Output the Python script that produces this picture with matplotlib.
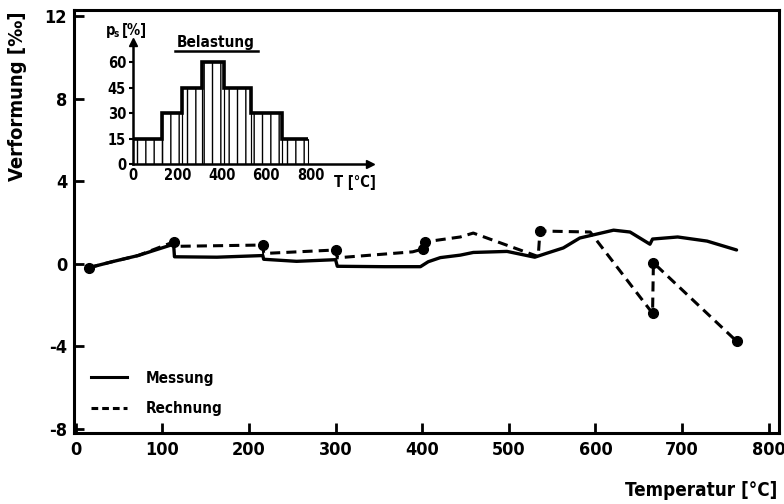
import matplotlib
matplotlib.use("Agg")
import matplotlib.pyplot as plt
import numpy as np
from matplotlib.lines import Line2D

# Messung (solid line), temperature [°C] vs. strain [per mille]
mess_T = [15, 42, 72, 113, 114, 163, 216, 217, 255, 300, 302, 356, 398, 407,
          421, 444, 459, 498, 530, 543, 563, 582, 621, 640, 663, 666, 695, 729, 763]
mess_eps = [-0.19, 0.1, 0.4, 0.95, 0.34, 0.32, 0.4, 0.22, 0.12, 0.2, -0.12, -0.14, -0.14, 0.1,
            0.3, 0.42, 0.55, 0.6, 0.32, 0.5, 0.77, 1.25, 1.63, 1.54, 0.95, 1.2, 1.3, 1.1, 0.67]

# Rechnung (dashed line)
rech_T = [15, 42, 72, 113, 121, 216, 217, 300, 302, 389, 401, 403, 444, 459,
          534, 536, 594, 666, 667, 763]
rech_eps = [-0.19, 0.1, 0.4, 1.06, 0.85, 0.91, 0.5, 0.67, 0.29, 0.58, 0.72, 1.06, 1.3, 1.49,
            0.35, 1.59, 1.54, -2.4, 0.05, -3.75]
rech_dots = [0, 3, 5, 7, 10, 11, 15, 17, 18, 19]

# inset: Belastung p_s [%]
load_edges = [0, 130, 220, 310, 410, 530, 670, 790]
load_vals = [15, 30, 45, 60, 45, 30, 15]

plt.rcParams["font.family"] = ["DejaVu Sans"]
plt.rcParams["font.stretch"] = "condensed"
plt.rcParams["font.weight"] = "bold"
plt.rcParams["axes.unicode_minus"] = False
plt.rcParams["hatch.linewidth"] = 1.0

fig = plt.figure(figsize=(7.84, 5.04), dpi=100)
W, H = 784, 504

ax = fig.add_axes([74 / W, 71 / H, 705 / W, 423 / H])
ax.plot(mess_T, mess_eps, color="k", lw=2.4, solid_joinstyle="round",
        solid_capstyle="round")
ax.plot(rech_T, rech_eps, color="k", lw=2.2, ls=(0, (3.3, 2)))
ax.plot(np.array(rech_T)[rech_dots], np.array(rech_eps)[rech_dots], "ko", ms=7)

ax.set_xlim(-2, 812)
ax.set_ylim(-8.2, 12.3)
ax.set_xticks(range(0, 801, 100))
ax.set_yticks([-8, -4, 0, 4, 8, 12])
ax.tick_params(direction="in", length=7, width=2, labelsize=13, pad=5)
ax.tick_params(axis="x", pad=6)
for s in ax.spines.values():
    s.set_linewidth(2.2)

handles = [Line2D([], [], color="k", lw=2.2),
           Line2D([], [], color="k", lw=2.2, ls=(0, (2.2, 1.3)))]
ax.legend(handles, ["Messung", "Rechnung"], loc="lower left",
          bbox_to_anchor=(0.013, 0.022), frameon=False, fontsize=11,
          handlelength=2.4, handletextpad=1.2, labelspacing=1.0, borderpad=0)

fig.text(18 / W, 1 - 96 / H, "Verformung [‰]", rotation=90, fontsize=14.5,
         ha="center", va="center")
fig.text(777 / W, 1 - 490 / H, "Temperatur [°C]", fontsize=13.5,
         ha="right", va="center")

# inset
axi = fig.add_axes([133 / W, 1 - 164 / H, 237 / W, 122 / H])
axi.set_xlim(0, 1068)
axi.set_ylim(0, 72)
axi.bar(load_edges[:-1], load_vals, width=np.diff(load_edges), align="edge",
        fill=False, hatch="||", edgecolor="k", linewidth=0.8)
axi.stairs(load_vals, load_edges, baseline=None, color="k", lw=2.6)
axi.spines["top"].set_visible(False)
axi.spines["right"].set_visible(False)
axi.spines["left"].set_linewidth(1.8)
axi.spines["bottom"].set_linewidth(1.8)
axi.plot(1, 0, ">k", ms=6, transform=axi.transAxes, clip_on=False)
axi.plot(0, 1, "^k", ms=6, transform=axi.transAxes, clip_on=False)
axi.set_xticks(range(0, 801, 200))
axi.set_yticks([0, 15, 30, 45, 60])
axi.tick_params(axis="x", length=0, labelsize=10.5, pad=3)
axi.tick_params(axis="y", length=3, width=1.5, labelsize=10.5, pad=2)
axi.patch.set_alpha(0)

fig.text(106 / W, 1 - 30 / H, "p", fontsize=10.5, va="center")
fig.text(114 / W, 1 - 34 / H, "s", fontsize=7, va="center")
fig.text(122 / W, 1 - 30 / H, "[%]", fontsize=10.5, va="center")
fig.text(216 / W, 1 - 42 / H, "Belastung", fontsize=11, ha="center", va="center")
fig.add_artist(Line2D([175 / W, 258 / W], [1 - 51 / H, 1 - 51 / H], color="k", lw=1.8))
fig.text(334 / W, 1 - 183 / H, "T [°C]", fontsize=10.5, va="center")

fig.savefig("out.png", dpi=100)
